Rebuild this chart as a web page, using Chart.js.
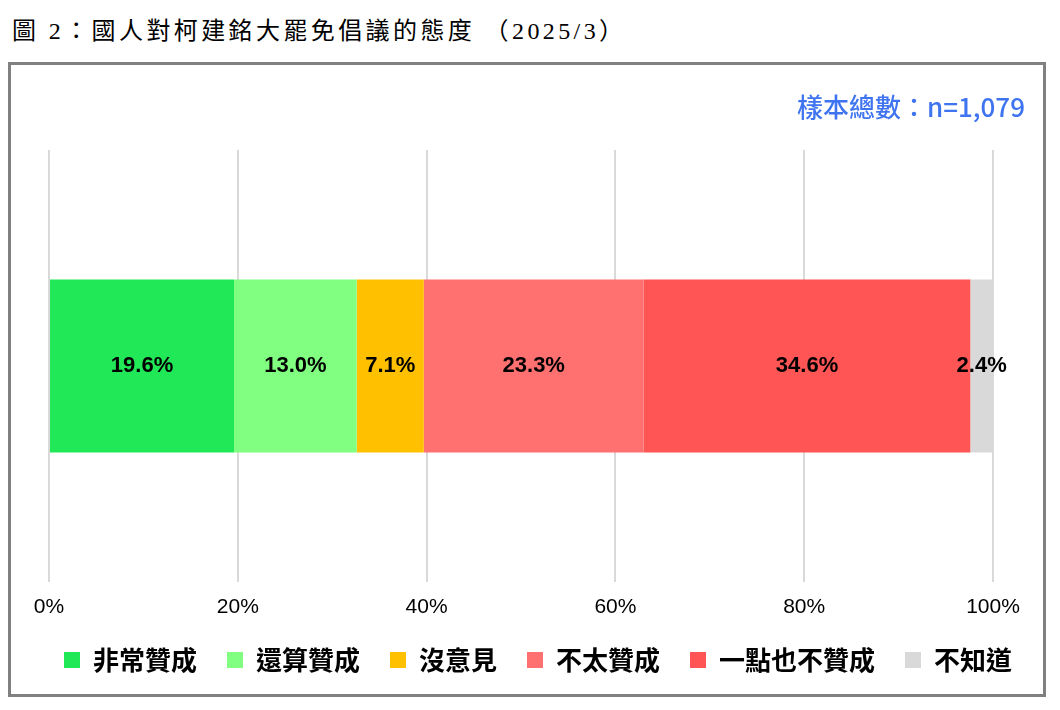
<!DOCTYPE html>
<html>
<head>
<meta charset="utf-8">
<script src="https://cdn.jsdelivr.net/npm/chart.js@4"></script>
<style>
  html, body { margin: 0; padding: 0; background: #fff; }
  body { width: 1060px; height: 710px; position: relative; overflow: hidden; }
  #title {
    position: absolute; left: 12px; top: 11px;
    font-family: "Liberation Serif", "Noto Sans CJK TC", serif;
    font-size: 24px; letter-spacing: 3.4px; color: #000; white-space: pre;
  }
  #box {
    position: absolute; left: 8px; top: 62px;
    width: 1032px; height: 629px;
    border: 3px solid #808080; background: #fff;
  }
  #box canvas { display: block; }
</style>
</head>
<body>
<div id="title">圖 2：國人對柯建銘大罷免倡議的態度 （2025/3）</div>
<div id="box"><canvas id="attitudeChart" width="1032" height="629"></canvas></div>

<script>
// ── DATA ─────────────────────────────────────────────
const categories = ["非常贊成", "還算贊成", "沒意見", "不太贊成", "一點也不贊成", "不知道"];
const values     = [19.6, 13.0, 7.1, 23.3, 34.6, 2.4];
const colors     = ["#21e856", "#80ff80", "#ffc000", "#ff7070", "#ff5555", "#d9d9d9"];
const xTicks     = [0, 20, 40, 60, 80, 100];
const sampleNote = "樣本總數：n=1,079";

const CJK = '"Noto Sans CJK TC", "Liberation Sans", sans-serif';
const ARIAL = '"Liberation Sans", Arial, sans-serif';

// segment labels, centered in each stack piece
const segLabels = {
  id: "segLabels",
  afterDatasetsDraw(chart) {
    const ctx = chart.ctx;
    ctx.save();
    ctx.font = "bold 22px " + ARIAL;
    ctx.fillStyle = "#000";
    ctx.textAlign = "center";
    ctx.textBaseline = "middle";
    chart.data.datasets.forEach((ds, i) => {
      const bar = chart.getDatasetMeta(i).data[0];
      if (!bar) return;
      ctx.fillText(ds.data[0].toFixed(1) + "%", (bar.x + bar.base) / 2, bar.y);
    });
    ctx.restore();
  }
};

// sample size note, top right
const sampleLabel = {
  id: "sampleLabel",
  afterDraw(chart) {
    const ctx = chart.ctx;
    ctx.save();
    ctx.font = "500 26px " + CJK;
    ctx.fillStyle = "#3f74f0";
    ctx.textAlign = "right";
    ctx.textBaseline = "middle";
    ctx.fillText(sampleNote, 1014, 42);
    ctx.restore();
  }
};

new Chart(document.getElementById("attitudeChart").getContext("2d"), {
  type: "bar",
  data: {
    labels: [""],
    datasets: categories.map((c, i) => ({
      label: c,
      data: [values[i]],
      backgroundColor: colors[i],
      borderWidth: 0,
      barPercentage: 0.5,
      categoryPercentage: 0.8,
    })),
  },
  options: {
    indexAxis: "y",
    responsive: false,
    animation: false,
    layout: { padding: { left: 22, right: 0, top: 85, bottom: 11 } },
    plugins: {
      tooltip: { enabled: false },
      title: { display: false },
      legend: {
        position: "bottom",
        labels: {
          boxWidth: 16,
          boxHeight: 16,
          padding: 30,
          color: "#000",
          font: { family: CJK, size: 26, weight: "bold" },
        },
      },
    },
    scales: {
      x: {
        stacked: true,
        min: 0,
        max: 100,
        afterBuildTicks: (axis) => { axis.ticks = xTicks.map(v => ({ value: v })); },
        afterFit: (axis) => { axis.height = 35; },
        grid: { color: "#d9d9d9", lineWidth: 2, drawTicks: false },
        border: { display: false },
        ticks: {
          padding: 13,
          color: "#000",
          font: { family: ARIAL, size: 21 },
          callback: (v) => v + "%",
        },
      },
      y: {
        stacked: true,
        display: true,
        grid: { display: false },
        border: { display: false },
        ticks: { display: false },
        afterFit: (axis) => { axis.width = 16; },
      },
      yRight: {
        type: "linear",
        position: "right",
        display: true,
        grid: { display: false },
        border: { display: false },
        ticks: { display: false },
        afterFit: (axis) => { axis.width = 50; },
      },
    },
  },
  plugins: [segLabels, sampleLabel],
});
</script>
</body>
</html>
